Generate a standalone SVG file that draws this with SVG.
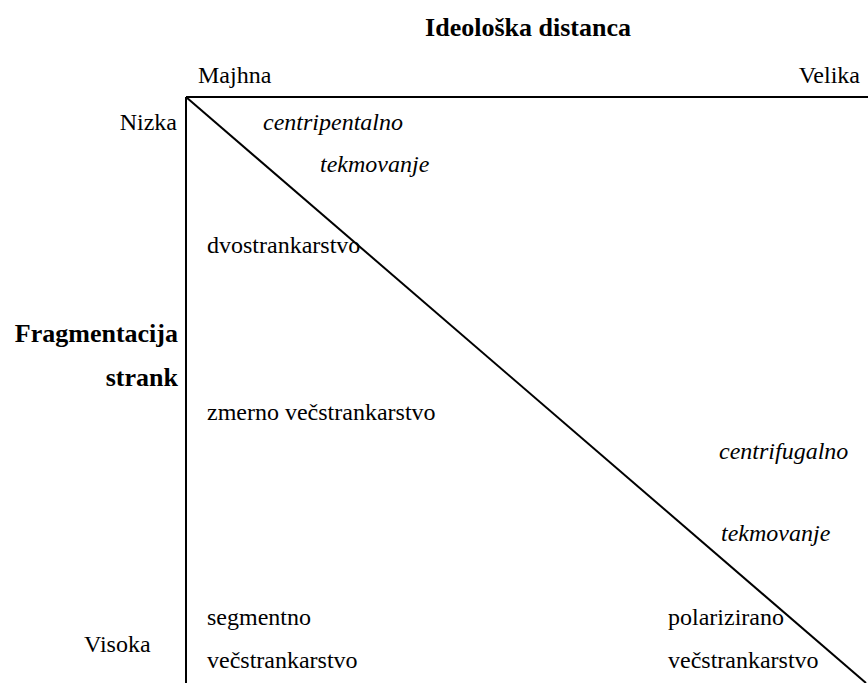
<svg xmlns="http://www.w3.org/2000/svg" width="868" height="683" viewBox="0 0 868 683" font-family="Liberation Serif, serif">
<style>
text { font-size: 24px; fill: #000; }
.b { font-weight: bold; font-size: 26px; }
.i { font-style: italic; }
.e { text-anchor: end; }
.m { text-anchor: middle; }
.ln { stroke: #000; stroke-width: 2; fill: none; }
</style>
<rect width="868" height="683" fill="#fff"/>
<g id="connectors">
<line class="ln" x1="186" y1="97" x2="868" y2="97"/>
<line class="ln" x1="186" y1="97" x2="186" y2="683"/>
<line class="ln" x1="186" y1="97" x2="866" y2="683"/>
</g>
<g id="title"><text class="b m" x="528" y="36">Ideološka distanca</text></g>
<g id="majhna"><text x="198" y="83">Majhna</text></g>
<g id="velika"><text class="e" x="860" y="83">Velika</text></g>
<g id="nizka"><text class="e" x="177" y="130">Nizka</text></g>
<g id="centripetalno"><text class="i" x="263" y="130">centripentalno</text><text class="i" x="320" y="172">tekmovanje</text></g>
<g id="dvostrankarstvo"><text x="207" y="253">dvostrankarstvo</text></g>
<g id="fragmentacija"><text class="b e" x="178" y="342">Fragmentacija</text><text class="b e" x="178" y="386">strank</text></g>
<g id="zmerno"><text x="207" y="420">zmerno večstrankarstvo</text></g>
<g id="centrifugalno"><text class="i" x="719" y="459">centrifugalno</text><text class="i" x="721" y="541">tekmovanje</text></g>
<g id="segmentno"><text x="207" y="625">segmentno</text><text x="207" y="668">večstrankarstvo</text></g>
<g id="visoka"><text x="84" y="652">Visoka</text></g>
<g id="polarizirano"><text x="668" y="625">polarizirano</text><text x="668" y="668">večstrankarstvo</text></g>
</svg>
